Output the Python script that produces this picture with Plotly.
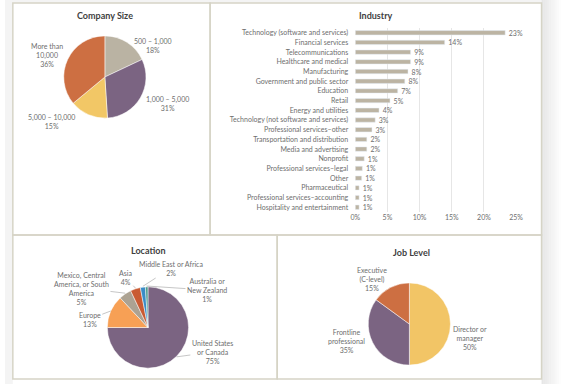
import math
import plotly.graph_objects as go

W, H = 575, 384
FONT = "Lato"
TXT = "#6e6e6e"
FS = 7

# ---------------- data ----------------
size_labels = ["500 – 1,000", "1,000 – 5,000", "5,000 – 10,000", "More than<br>10,000"]
size_values = [18, 31, 15, 36]
size_colors = ["#bab3a3", "#7b6482", "#f2c766", "#cd6f42"]

industry_labels = [
    "Technology (software and services)", "Financial services", "Telecommunications",
    "Healthcare and medical", "Manufacturing", "Government and public sector", "Education",
    "Retail", "Energy and utilities", "Technology (not software and services)",
    "Professional services–other", "Transportation and distribution", "Media and advertising",
    "Nonprofit", "Professional services–legal", "Other", "Pharmaceutical",
    "Professional services–accounting", "Hospitality and entertainment",
]
industry_values = [23.3, 13.9, 8.6, 8.6, 8.2, 7.7, 6.6, 5.4, 3.7, 3.1, 2.6, 1.8, 1.8,
                   1.4, 1.1, 1.0, 0.6, 0.6, 0.6]
industry_ticks = [0, 5, 10, 15, 20, 25]

loc_labels = ["United States<br>or Canada", "Europe", "Mexico, Central<br>America, or South<br>America",
              "Asia", "Middle East or Africa", "Australia or<br>New Zealand"]
loc_values = [75, 13, 5, 4, 2, 1]
loc_colors = ["#7b6482", "#f7a055", "#aca292", "#c95b33", "#3a8cc7", "#4a9a8c"]

job_labels = ["Director or<br>manager", "Frontline<br>professional", "Executive<br>(C-level)"]
job_values = [50, 35, 15]
job_colors = ["#f2c566", "#7b6482", "#cd6f42"]

# ---------------- layout helpers ----------------
def px(x):
    return x / W

def py(y):
    return 1 - y / H

def dom(cx, cy, r):
    return dict(x=[px(cx - r), px(cx + r)], y=[py(cy + r), py(cy - r)])

fig = go.Figure()

# pies
pies = [
    (size_values, size_labels, size_colors, (102, 77, 42)),
    (loc_values, loc_labels, loc_colors, (146, 327.5, 41.5)),
    (job_values, job_labels, job_colors, (413, 324, 42)),
]
for vals, labs, cols, (cx, cy, r) in pies:
    fig.add_trace(go.Pie(
        values=vals, labels=labs, sort=False, direction="clockwise", rotation=0,
        marker=dict(colors=cols, line=dict(color="white", width=0.5)),
        textinfo="none", hoverinfo="label+percent", showlegend=False,
        domain=dom(cx, cy, r),
    ))

# industry bars
fig.add_trace(go.Bar(
    x=industry_values, y=industry_labels, orientation="h",
    marker=dict(color="#bcb4a3"), width=0.45,
    texttemplate="\u00a0\u00a0%{x:.0f}%", textposition="outside", constraintext="none",
    textfont=dict(family=FONT, size=FS, color=TXT),
    cliponaxis=False, showlegend=False,
))

fig.update_layout(
    width=W, height=H, margin=dict(l=0, r=0, t=0, b=0),
    paper_bgcolor="white", plot_bgcolor="white",
    font=dict(family=FONT, size=FS, color=TXT),
    xaxis=dict(domain=[px(357.7), px(522)], range=[0, 25], tickvals=industry_ticks,
               ticktext=[f"{t}%" for t in industry_ticks], showgrid=True,
               gridcolor="#e6e6e6", gridwidth=0.8, zeroline=False, showline=False,
               tickfont=dict(size=FS, color=TXT), fixedrange=True),
    yaxis=dict(domain=[py(212.1), py(27.9)], autorange="reversed", showgrid=False,
               zeroline=False, showline=False, ticklabelstandoff=6,
               tickfont=dict(size=FS, color=TXT), fixedrange=True),
)

# label annotations (no leader)
anns = []
def label(text, x, y):
    anns.append(dict(text=text, x=px(x), y=py(y), xref="paper", yref="paper",
                     showarrow=False, xanchor="center", yanchor="middle",
                     font=dict(family=FONT, size=FS, color=TXT)))

size_pos = [(151, 46), (166, 104), (48, 121), (43, 55)]
for lab, v, (x, y) in zip(size_labels, size_values, size_pos):
    label(f"{lab}<br>{v}%", x, y)

job_pos = [(475, 338), (349, 341), (375, 279)]
for lab, v, (x, y) in zip(job_labels, job_values, job_pos):
    label(f"{lab}<br>{v}%", x, y)

# location labels with leader lines to slice mid-angles
lcx, lcy, lr = 146, 327.5, 41.5
loc_pos = [(211, 352), (87, 319), (79, 288), (123, 277), (169, 268), (205, 290)]
total = sum(loc_values)
cum = 0
for lab, v, (x, y) in zip(loc_labels, loc_values, loc_pos):
    mid = (cum + v / 2) / total * 2 * math.pi
    cum += v
    tx = lcx + lr * math.sin(mid)
    ty = lcy - lr * math.cos(mid)
    anns.append(dict(text=f"{lab}<br>{v}%", x=px(tx), y=py(ty), xref="paper", yref="paper",
                     showarrow=True, arrowhead=0, arrowwidth=0.6, arrowcolor="#a0a0a0",
                     ax=x - tx, ay=y - ty, standoff=0,
                     font=dict(family=FONT, size=FS, color=TXT)))

# titles
for t, x, y in [("Company Size", 102, 16), ("Industry", 379, 16),
                ("Location", 147, 250), ("Job Level", 415, 252)]:
    anns.append(dict(text=f"<b>{t}</b>", x=px(x), y=py(y), xref="paper", yref="paper",
                     showarrow=False, xanchor="center", yanchor="middle",
                     font=dict(family=FONT, size=9, color="#3f3f3f")))

fig.update_layout(annotations=anns)

# panel frames and page shadow
shapes = []
shapes.append(dict(type="rect", xref="paper", yref="paper", x0=0, x1=px(8), y0=0, y1=1,
                   fillcolor="#f4f4f4", line=dict(width=0), layer="below"))
shapes.append(dict(type="rect", xref="paper", yref="paper", x0=0, x1=px(548), y0=py(3), y1=1,
                   fillcolor="#f4f4f4", line=dict(width=0), layer="below"))
for i in range(10):
    shapes.append(dict(type="rect", xref="paper", yref="paper",
                       x0=px(548 + i * 2), x1=px(550 + i * 2), y0=py(384), y1=py(0),
                       fillcolor="#c8c8c8", opacity=0.45 * (1 - i / 10),
                       line=dict(width=0), layer="below"))
border = dict(color="#d6d4c6", width=1.5)
for x0, x1, y0, y1 in [(8, 209.5, 3, 235), (209.5, 548, 3, 235),
                       (8, 278, 235, 379), (278, 548, 235, 379)]:
    shapes.append(dict(type="rect", xref="paper", yref="paper", x0=px(x0), x1=px(x1),
                       y0=py(y1), y1=py(y0), line=border, fillcolor="rgba(0,0,0,0)",
                       layer="below"))
fig.update_layout(shapes=shapes)

fig.write_html("out.html", config={"displayModeBar": False},
               post_script="document.body.style.margin='0';document.body.style.overflow='hidden';")
